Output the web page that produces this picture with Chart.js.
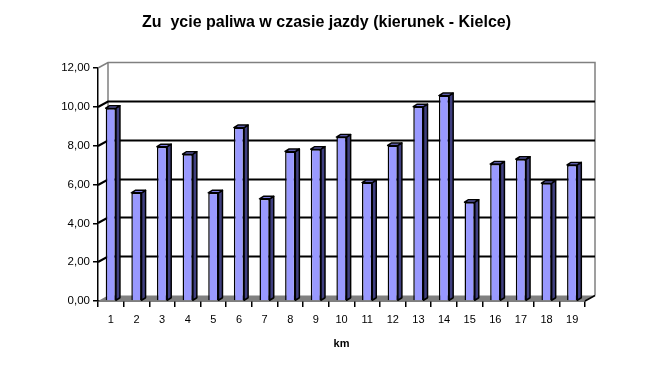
<!DOCTYPE html>
<html>
<head>
<meta charset="utf-8">
<script src="https://cdn.jsdelivr.net/npm/chart.js@4/dist/chart.umd.min.js"></script>
<style>
  html, body { margin: 0; padding: 0; background: #fff; }
</style>
</head>
<body>
<canvas id="fuelChart" width="653" height="375"></canvas>
<script>
// data
const kmLabels = ['1', '2', '3', '4', '5', '6', '7', '8', '9', '10', '11', '12', '13', '14', '15', '16', '17', '18', '19'];
const fuelUse = [9.93, 5.57, 7.95, 7.56, 5.57, 8.93, 5.26, 7.70, 7.82, 8.44, 6.10, 8.01, 10.01, 10.58, 5.09, 7.05, 7.30, 6.07, 7.01];
const yTicks = [0, 2, 4, 6, 8, 10, 12];

const titleText = 'Zu  ycie paliwa w czasie jazdy (kierunek - Kielce)';
const font = 'Liberation Sans, Arial, sans-serif';

// wall depth and bar depth of the fake 3D
const wall = { dx: 10, dy: -5.5 };
const barDepth = { dx: 4, dy: -2.5 };

function poly(ctx, pts) {
    ctx.beginPath();
    ctx.moveTo(pts[0][0], pts[0][1]);
    for (let i = 1; i < pts.length; i++) ctx.lineTo(pts[i][0], pts[i][1]);
    ctx.closePath();
}

const walls3d = {
    id: 'walls3d',
    beforeDatasetsDraw(chart) {
        const { ctx, chartArea: a, scales: { y } } = chart;
        ctx.save();

        // floor
        ctx.fillStyle = '#808080';
        poly(ctx, [[a.left, a.bottom], [a.left + wall.dx, a.bottom + wall.dy],
                   [a.right + wall.dx, a.bottom + wall.dy], [a.right, a.bottom]]);
        ctx.fill();

        // wall edges
        ctx.lineWidth = 1.5;
        ctx.strokeStyle = '#808080';
        const t = Math.round(a.top);
        ctx.beginPath();
        ctx.moveTo(a.left, t);
        ctx.lineTo(a.left + wall.dx, t + wall.dy);
        ctx.lineTo(a.right + wall.dx, t + wall.dy);
        ctx.lineTo(a.right + wall.dx, a.bottom + wall.dy);
        ctx.moveTo(a.left + wall.dx, t + wall.dy);
        ctx.lineTo(a.left + wall.dx, a.bottom + wall.dy);
        ctx.stroke();

        // gridlines on the back wall
        ctx.lineWidth = 2;
        ctx.strokeStyle = '#000';
        yTicks.forEach(v => {
            if (v === 0 || v === 12) return;
            const py = Math.round(y.getPixelForValue(v));
            ctx.beginPath();
            ctx.moveTo(a.left, py);
            ctx.lineTo(a.left + wall.dx, py + wall.dy);
            ctx.lineTo(a.right + wall.dx, py + wall.dy);
            ctx.stroke();
        });
        ctx.restore();
    },
    afterDatasetsDraw(chart) {
        const { ctx, chartArea: a } = chart;
        const meta = chart.getDatasetMeta(0);
        ctx.save();
        ctx.lineWidth = 1.5;
        ctx.lineJoin = 'round';
        ctx.strokeStyle = '#000';
        meta.data.forEach(bar => {
            const { x, y, width, base } = bar.getProps(['x', 'y', 'width', 'base'], true);
            const l = x - width / 2, r = x + width / 2;
            // side
            ctx.fillStyle = '#3f3f80';
            poly(ctx, [[r, y], [r + barDepth.dx, y + barDepth.dy],
                       [r + barDepth.dx, base + barDepth.dy], [r, base]]);
            ctx.fill();
            ctx.stroke();
            // top
            ctx.fillStyle = '#7a7ae0';
            poly(ctx, [[l, y], [l + barDepth.dx, y + barDepth.dy],
                       [r + barDepth.dx, y + barDepth.dy], [r, y]]);
            ctx.fill();
            ctx.stroke();
        });
        // end of the x axis going back
        ctx.lineWidth = 1.5;
        const b = Math.round(a.bottom);
        ctx.beginPath();
        ctx.moveTo(a.right, b);
        ctx.lineTo(a.right + wall.dx, b + wall.dy);
        ctx.stroke();

        // title
        ctx.fillStyle = '#000';
        ctx.font = 'bold 16px ' + font;
        ctx.textAlign = 'center';
        ctx.textBaseline = 'middle';
        ctx.fillText(titleText, chart.width / 2, 23);
        ctx.restore();
    }
};

new Chart(document.getElementById('fuelChart'), {
    type: 'bar',
    data: {
        labels: kmLabels,
        datasets: [{
            data: fuelUse,
            backgroundColor: '#9999ff',
            borderColor: '#000',
            borderWidth: 1.5,
            barPercentage: 0.4,
            categoryPercentage: 1
        }]
    },
    options: {
        responsive: false,
        animation: false,
        devicePixelRatio: 1,
        layout: { padding: { left: 40, right: 68, top: 68, bottom: 0 } },
        plugins: {
            legend: { display: false },
            tooltip: { enabled: false },
            title: { display: false }
        },
        scales: {
            x: {
                grid: { drawOnChartArea: false, color: '#000', tickLength: 6, offset: true, lineWidth: 1.5 },
                border: { color: '#000', width: 1.5 },
                ticks: { color: '#000', font: { family: font, size: 11 }, padding: 6, maxRotation: 0, autoSkip: false },
                title: {
                    display: true, text: 'km', color: '#000',
                    font: { family: font, size: 11, weight: 'bold' },
                    padding: { top: 0, bottom: 24 }
                },
                afterFit(scale) { scale.height = 74; }
            },
            y: {
                min: 0,
                max: 12,
                grid: { drawOnChartArea: false, color: '#000', tickLength: 5, lineWidth: 1.5 },
                border: { color: '#000', width: 1.5 },
                ticks: {
                    stepSize: 2, color: '#000', padding: 3,
                    font: { family: font, size: 11.5 },
                    callback: v => v.toFixed(2).replace('.', ',')
                },
                afterFit(scale) { scale.width = 58; }
            }
        }
    },
    plugins: [walls3d]
});
</script>
</body>
</html>
